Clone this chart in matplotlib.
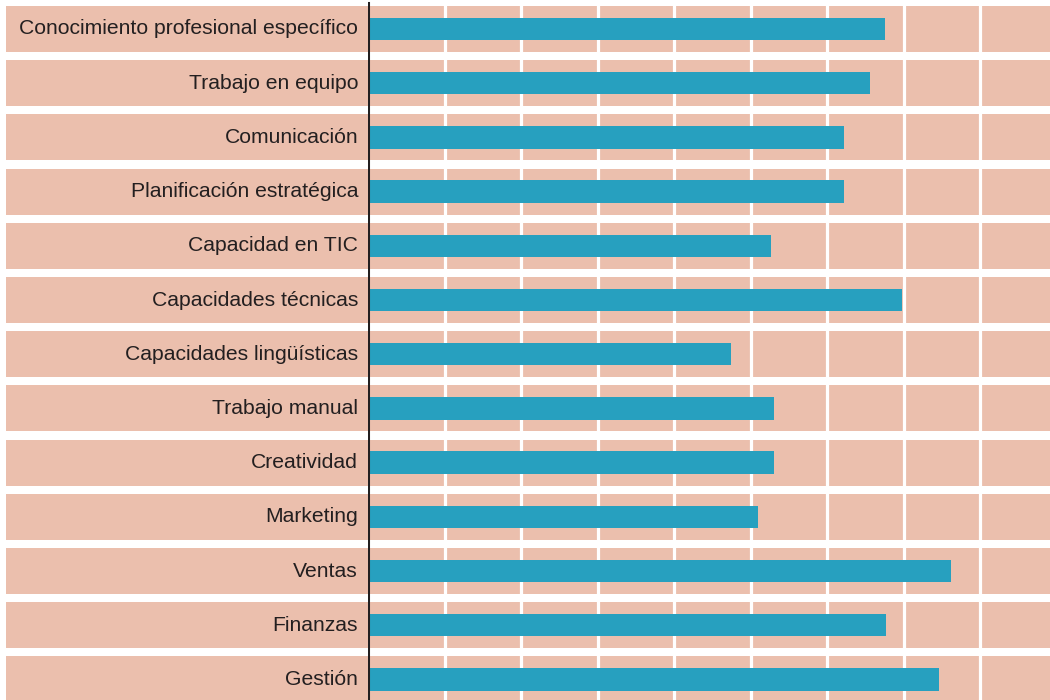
import matplotlib
matplotlib.use("Agg")
import matplotlib.pyplot as plt

categorias = [
    "Conocimiento profesional específico",
    "Trabajo en equipo",
    "Comunicación",
    "Planificación estratégica",
    "Capacidad en TIC",
    "Capacidades técnicas",
    "Capacidades lingüísticas",
    "Trabajo manual",
    "Creatividad",
    "Marketing",
    "Ventas",
    "Finanzas",
    "Gestión",
]
valores = [6.76, 6.56, 6.22, 6.22, 5.27, 6.98, 4.75, 5.31, 5.31, 5.10, 7.62, 6.77, 7.46]
rejilla = [1, 2, 3, 4, 5, 6, 7, 8]

ROSA = "#EBBFAD"
AZUL = "#27A0BF"
TEXTO = "#231F20"

plt.rcParams["font.family"] = ["Liberation Sans", "DejaVu Sans"]

fig = plt.figure(figsize=(10.5, 7), dpi=100)
ax = fig.add_axes([368 / 1050, 0, 682 / 1050, 1])

ax.set_xlim(0, 682 / 76.5)
ax.set_ylim(12.38, -0.535)

# bandas de fondo de cada fila, llegan hasta la zona de etiquetas
xmin_banda = (6 - 368) / 682
for i in range(len(categorias)):
    ax.axhspan(i - 0.425, i + 0.425, xmin=xmin_banda, xmax=1,
               color=ROSA, lw=0, clip_on=False, zorder=0)

for g in rejilla:
    ax.axvline(g, color="white", lw=2.3, zorder=1)

ax.barh(range(len(categorias)), valores, height=0.41, color=AZUL, zorder=2)

ax.axvline(0, ymin=0, ymax=(700 - 3) / 700, color=TEXTO, lw=2.2, zorder=3)

for i, nombre in enumerate(categorias):
    ax.text(-0.13, i, nombre, ha="right", va="center", fontsize=15.2,
            color=TEXTO, clip_on=False)

ax.set_xticks([])
ax.set_yticks([])
for s in ax.spines.values():
    s.set_visible(False)
ax.patch.set_alpha(0)

fig.savefig("out.png", dpi=100, facecolor="white")
